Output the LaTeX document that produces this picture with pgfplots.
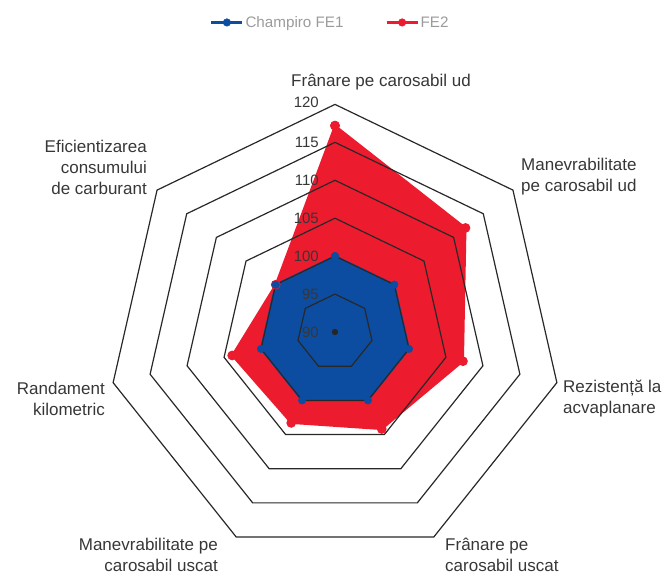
\documentclass[border=0pt]{standalone}
\usepackage{pgfplots}
\pgfplotsset{compat=1.18}
\usepackage{pgfplotstable}
\usepgfplotslibrary{polar}
\usepackage{fontspec}
\setmainfont{Liberation Sans}
\definecolor{fered}{RGB}{237,27,46}
\definecolor{feblue}{RGB}{12,77,162}
\definecolor{gridc}{RGB}{40,40,40}
\definecolor{labc}{RGB}{55,55,55}
\definecolor{legc}{RGB}{155,155,155}

\pgfplotstableread{
a v1 v2
90 100 117.2
38.5714 100 112
-12.8571 100 107.3
-64.2857 100 104.2
-115.7143 100 103.3
-167.1429 100 103.9
-218.5714 100 100
90 100 117.2
}\data

\begin{document}
\begin{tikzpicture}[x=1pt,y=1pt]
\begin{polaraxis}[
  hide axis,
  scale only axis,
  width=455.2pt, height=455.2pt,
  xmin=0, xmax=360, ymin=0, ymax=30,
  clip=false,
  legend columns=2,
  legend style={draw=none, fill=none, at={(0.49,1.18)}, anchor=center,
    font=\fontsize{15.2}{18}\selectfont\color{legc},
    /tikz/every even column/.append style={column sep=40pt}},
  legend cell align=left,
]
\coordinate (c) at (axis cs:0,0);
% red series
\addplot[forget plot, draw=fered, line width=2pt, fill=fered, mark=*, mark size=3.8pt, mark options={fill=fered, draw=fered}]
  table[x=a, y expr=\thisrow{v2}-90]{\data};
% blue series
\addplot[forget plot, draw=feblue, line width=2pt, fill=feblue]
  table[x=a, y expr=\thisrow{v1}-90]{\data};
% grid heptagons
\pgfplotsinvokeforeach{5,10,15,20,25,30}{
  \addplot[forget plot, draw=gridc, line width=1.2pt, line join=miter] table[x=a, y expr=#1]{\data};
}
% blue marks on top
\addplot[forget plot, only marks, mark=*, mark size=3.8pt, mark options={fill=feblue, draw=feblue}]
  table[x=a, y expr=\thisrow{v1}-90]{\data};

\addlegendimage{legend image code/.code={\draw[feblue, line width=2.2pt] (0pt,0pt) -- (31pt,0pt); \fill[feblue] (15.5pt,0pt) circle (3.8pt);}}
\addlegendentry{Champiro FE1}
\addlegendimage{legend image code/.code={\draw[fered, line width=2.2pt] (0pt,0pt) -- (31pt,0pt); \fill[fered] (15.5pt,0pt) circle (3.8pt);}}
\addlegendentry{FE2}
\end{polaraxis}

\fill[black!85] (c) circle (3.2pt);
\begin{scope}[every node/.style={font=\fontsize{15}{21}\selectfont, text=labc, inner sep=0pt}]
\foreach \v/\r in {90/0,95/37.9,100/75.9,105/113.8,110/151.7,115/189.7,120/229.5}{
  \node[anchor=east, shift={(-16pt,\r pt)}] at (c) {\v};
}
\end{scope}
\begin{scope}[every node/.style={font=\fontsize{17}{21}\selectfont, text=labc, inner sep=0pt}]
\node[anchor=center, shift={(46pt,250pt)}] at (c) {Frânare pe carosabil ud};
\node[anchor=west, align=left, shift={(186pt,155pt)}] at (c) {Manevrabilitate\\pe carosabil ud};
\node[anchor=west, align=left, shift={(228pt,-66pt)}] at (c) {Rezistență la\\acvaplanare};
\node[anchor=west, align=left, shift={(110pt,-223pt)}] at (c) {Frânare pe\\carosabil uscat};
\node[anchor=east, align=right, shift={(-117pt,-223pt)}] at (c) {Manevrabilitate pe\\carosabil uscat};
\node[anchor=east, align=right, shift={(-230pt,-67pt)}] at (c) {Randament\\kilometric};
\node[anchor=east, align=right, shift={(-188pt,165pt)}] at (c) {Eficientizarea\\consumului\\de carburant};
\end{scope}

\pgfresetboundingbox
\path[use as bounding box] (c) ++(-335pt,332pt) rectangle ++(666pt,-576pt);
\end{tikzpicture}
\end{document}
